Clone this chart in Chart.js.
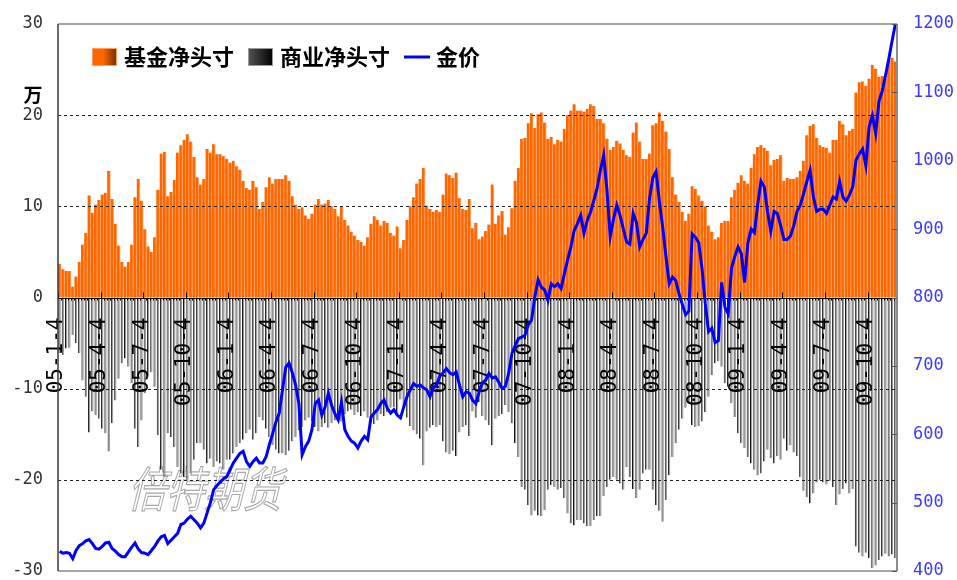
<!DOCTYPE html>
<html>
<head>
<meta charset="utf-8">
<script src="https://cdn.jsdelivr.net/npm/chart.js@4.4.0/dist/chart.umd.min.js"></script>
<style>
html, body { margin: 0; padding: 0; background: #fff; overflow: hidden; }
#wrap { position: relative; width: 957px; height: 580px; }
</style>
</head>
<body>
<div id="wrap"><canvas id="chart" width="957" height="580"></canvas></div>
<script>
// 基金净头寸 (万), weekly from 2005-01-04
const fundNet = [
    3.7, 3.1, 2.9, 2.9, 1.2, 2.3, 3.9, 5.8, 7.1, 11.2,
    9.3, 10.2, 10.7, 11.3, 11.5, 13.9, 10.8, 8.1, 5.7, 3.9,
    3.4, 3.9, 5.8, 11.0, 13.0, 10.6, 7.5, 5.6, 5.0, 6.6,
    11.8, 15.8, 16.0, 11.1, 11.6, 12.9, 15.9, 16.7, 17.3, 17.9,
    17.1, 15.4, 13.2, 12.4, 13.0, 16.3, 15.9, 16.8, 15.7, 15.7,
    15.5, 15.2, 14.8, 15.0, 14.4, 14.0, 12.8, 12.0, 11.8, 12.8,
    12.1, 9.7, 10.5, 12.1, 13.2,
    12.5, 13.0, 13.0, 13.0, 13.4, 12.8, 11.1, 10.2, 9.7, 9.9,
    9.0, 8.6, 9.2, 10.2, 10.8, 10.2, 10.3, 10.7, 10.0, 9.7,
    8.9, 10.0, 8.5, 7.9, 7.2, 6.8, 6.3, 6.1, 5.7, 6.6,
    8.1, 8.9, 8.5, 7.9, 8.4, 8.2, 7.1, 6.8, 7.8, 5.4,
    6.3, 8.5, 10.0, 11.0, 12.5, 13.0, 14.2, 10.1, 9.7, 9.4,
    9.6, 9.4, 11.3, 13.6, 13.4, 13.1, 13.7, 10.9, 9.7, 9.6,
    10.8, 7.6, 8.2, 6.4,
    6.7, 7.3, 8.0, 12.4, 8.1, 9.0, 9.5, 6.9, 7.7, 9.8,
    12.8, 14.2, 17.4, 17.5, 19.1, 20.2, 18.6, 20.1, 20.3, 19.2,
    17.4, 17.6, 16.8, 17.3, 17.1, 18.5, 20.0, 20.5, 21.2, 20.5,
    20.5, 20.4, 20.7, 21.2, 21.0, 19.6, 19.6, 19.1, 17.4, 16.2,
    16.5, 17.2, 16.9, 16.2, 15.6, 15.4, 18.1, 19.2, 17.1, 15.2,
    15.2, 15.8, 18.9, 19.1, 20.3, 19.4, 18.2, 16.3, 13.2, 11.3,
    10.5, 9.4, 8.4, 9.2,
    12.2, 11.9, 11.2, 10.6, 10.0, 7.9, 7.2, 6.4, 6.6, 8.2,
    8.4, 8.4, 11.0, 11.8, 12.6, 13.4, 12.8, 12.5, 14.2, 15.7,
    16.5, 16.7, 16.4, 16.1, 14.5, 15.1, 15.2, 15.6, 12.8, 13.1,
    13.0, 13.0, 13.2, 13.9, 15.0, 17.8, 18.8, 19.0, 17.5, 16.7,
    16.5, 16.4, 15.9, 17.3, 17.3, 19.4, 19.0, 17.8, 18.3, 18.5,
    22.5, 23.6, 23.7, 23.2, 24.0, 25.5, 25.1, 24.2, 24.3, 24.0,
    26.0, 26.3, 25.9
];

// 商业净头寸 (万)
const commNet = [
    -6.1, -6.3, -5.6, -5.5, -4.1, -5.0, -6.1, -9.1, -10.9, -14.8,
    -12.5, -12.9, -13.3, -14.4, -14.9, -16.9, -13.8, -11.3, -8.9, -7.2,
    -6.7, -7.6, -9.4, -14.4, -16.4, -13.5, -10.5, -8.7, -8.2, -9.8,
    -15.1, -18.9, -19.7, -14.9, -15.3, -16.4, -18.6, -19.3, -19.7, -20.0,
    -19.3, -17.8, -16.0, -16.0, -16.7, -18.2, -17.7, -18.6, -18.0, -18.2,
    -18.9, -17.8, -17.8, -17.1, -16.4, -16.0, -15.6, -14.9, -14.5, -15.6,
    -14.9, -13.1, -13.5, -14.4, -15.3,
    -16.2, -16.7, -17.1, -17.1, -17.3, -16.8, -15.8, -15.3, -14.6, -14.2,
    -13.5, -13.2, -13.6, -14.2, -14.7, -14.2, -13.8, -14.3, -13.8, -13.5,
    -12.9, -13.6, -12.8, -12.5, -12.3, -12.9, -12.6, -13.0, -12.5, -13.2,
    -13.8, -13.9, -13.5, -12.8, -13.0, -12.6, -12.1, -12.0, -12.9, -11.2,
    -12.0, -13.2, -14.1, -14.6, -15.0, -15.5, -18.4, -14.7, -14.3, -14.0,
    -14.2, -14.0, -15.8, -17.0, -17.2, -16.8, -17.4, -14.8, -14.2, -14.0,
    -15.2, -12.5, -13.2, -11.5,
    -13.0, -13.5, -14.0, -16.2, -13.3, -13.0, -12.8, -11.8, -12.6, -13.8,
    -16.0, -17.5, -20.8, -21.1, -22.8, -23.9, -23.4, -23.9, -24.0, -23.3,
    -21.1, -20.6, -20.8, -21.1, -20.9, -22.0, -23.7, -24.8, -25.0, -24.4,
    -24.4, -24.8, -25.1, -25.1, -24.4, -24.0, -24.0, -21.8, -20.8, -20.0,
    -19.7, -20.0, -20.4, -21.1, -18.6, -19.7, -21.0, -22.0, -21.1, -19.3,
    -18.9, -18.9, -21.1, -22.8, -23.4, -24.6, -22.2, -19.5, -17.5, -16.0,
    -14.5, -13.3, -12.1, -11.6,
    -14.0, -14.2, -14.1, -13.6, -12.6, -10.9, -8.5, -7.2, -7.0, -7.6,
    -9.4, -9.8, -11.6, -13.1, -14.9, -16.0, -16.5, -17.5, -18.2, -18.9,
    -19.5, -19.3, -18.0, -16.7, -17.6, -18.2, -17.4, -17.8, -15.5, -16.8,
    -16.2, -17.0, -17.4, -19.7, -21.2, -21.9, -22.6, -21.5, -20.3, -20.0,
    -20.3, -20.5, -20.1, -20.8, -22.8, -21.6, -21.0, -20.4, -21.5, -21.0,
    -27.3, -28.0, -28.4, -28.0, -28.6, -29.7, -29.4, -28.8, -28.4, -28.1,
    -28.4, -28.2, -28.6
];

// 金价 (美元/盎司)
const goldPrice = [
    429, 426, 427, 426, 418, 430, 437, 440, 444, 446,
    440, 433, 432, 436, 441, 442, 433, 429, 424, 421,
    421, 428, 435, 441, 432, 427, 426, 424, 430, 436,
    444, 450, 452, 440, 445, 450, 455, 468, 470, 476,
    480, 475, 470, 463, 470, 485, 500, 519, 525, 530,
    535, 538, 548, 558, 565, 572, 575, 560, 553, 560,
    565, 558, 558, 567, 585, 601, 618, 631, 665, 698,
    704, 690, 672, 645, 570, 582, 590, 607, 645, 650,
    628, 640, 660, 642, 630, 621, 647, 607, 597, 590,
    587, 580, 590, 597, 592, 625, 631, 636, 645, 650,
    638, 631, 636, 628, 624, 640, 655, 665, 674, 670,
    672, 668, 665, 655, 668, 672, 685, 690, 696, 690,
    687, 691, 672, 655, 662, 660, 650, 645, 662, 675,
    679, 689, 682, 684, 676, 667, 670, 689, 718, 730,
    740, 742, 745, 760, 767, 801, 826, 815, 811, 796,
    820, 816, 820, 813, 835, 855, 874, 898, 908, 920,
    894, 913, 925, 942, 960, 986, 1008, 957, 889, 915,
    935, 920, 900, 881, 878, 923, 910, 874, 885, 894,
    945, 975, 984, 940, 903, 860, 820, 830, 825, 805,
    790, 775, 780, 893, 888, 880, 843, 791, 750, 755,
    734, 737, 822, 786, 776, 843, 860, 874, 864, 822,
    880, 900, 895, 936, 970, 962, 925, 897, 926, 923,
    905, 885, 885, 890, 905, 926, 935, 952, 970, 986,
    947, 926, 929, 929, 923, 935, 947, 944, 970, 947,
    941, 950, 962, 1001, 1010, 1017, 993, 1050, 1066, 1040,
    1087, 1102, 1125, 1149, 1175, 1200
];

const tickLabels = [
    "05-1-4", "05-4-4", "05-7-4", "05-10-4",
    "06-1-4", "06-4-4", "06-7-4", "06-10-4",
    "07-1-4", "07-4-4", "07-7-4", "07-10-4",
    "08-1-4", "08-4-4", "08-7-4", "08-10-4",
    "09-1-4", "09-4-4", "09-7-4", "09-10-4"
];
const tickEvery = 13; // 一个季度 13 周

// 周度类目
const weeks = [];
const start = new Date(2005, 0, 4);
for (let i = 0; i < fundNet.length; i++) {
    const d = new Date(start.getTime() + i * 7 * 86400000);
    weeks.push(String(d.getFullYear()).slice(2) + "-" + (d.getMonth() + 1) + "-" + d.getDate());
}

const fitY = (width) => (s) => {
    s.width = width;
    s.paddingTop = 0;
    s.paddingBottom = 0;
};

const decor = {
    id: "decor",
    beforeDatasetsDraw(chart) {
        // 水印
        const ctx = chart.ctx;
        ctx.save();
        ctx.translate(132, 489);
        ctx.transform(0.8, 0, -0.25, 1, 0, 0);
        ctx.font = '48px "Noto Sans CJK SC"';
        ctx.textAlign = "left";
        ctx.textBaseline = "middle";
        ctx.fillStyle = "#ffffff";
        ctx.fillText("倍特期货", 0, 0);
        ctx.strokeStyle = "#a8a8a8";
        ctx.lineWidth = 1.2;
        ctx.strokeText("倍特期货", 0, 0);
        ctx.restore();
    },
    afterDatasetDraw(chart, args) {
        if (args.index !== 0) return;
        const { ctx, chartArea: a } = chart;
        const x = chart.scales.x;
        const y = chart.scales.y;
        ctx.save();

        // 虚线网格
        ctx.strokeStyle = "#222";
        ctx.lineWidth = 1;
        ctx.setLineDash([3, 3]);
        [20, 10, -10, -20].forEach((v) => {
            const py = Math.round(y.getPixelForValue(v)) + 0.5;
            ctx.beginPath();
            ctx.moveTo(a.left, py);
            ctx.lineTo(a.right, py);
            ctx.stroke();
        });
        ctx.setLineDash([]);

        // 零轴
        const y0 = Math.round(y.getPixelForValue(0)) + 0.5;
        ctx.strokeStyle = "#000";
        ctx.beginPath();
        ctx.moveTo(a.left, y0);
        ctx.lineTo(a.right, y0);
        ctx.stroke();

        const w = x.getPixelForValue(1) - x.getPixelForValue(0);
        for (let i = 0; i <= weeks.length; i++) {
            const px = Math.round(x.getPixelForValue(0) - w / 2 + i * w) + 0.5;
            ctx.beginPath();
            if (i % tickEvery === 0) {
                ctx.moveTo(px, y0 - 6);
                ctx.lineTo(px, y0);
            } else {
                ctx.moveTo(px, y0);
                ctx.lineTo(px, y0 + 2);
            }
            ctx.stroke();
        }

        // 日期标签
        ctx.fillStyle = "#000";
        ctx.font = '21px "DejaVu Sans Mono"';
        ctx.textAlign = "right";
        ctx.textBaseline = "middle";
        tickLabels.forEach((lab, k) => {
            const px = x.getPixelForValue(k * tickEvery) - w / 2 - 1;
            ctx.save();
            ctx.translate(px, y0 + 19);
            ctx.rotate(-Math.PI / 2);
            ctx.fillText(lab, 0, 0);
            ctx.restore();
        });
        ctx.restore();
    },
    afterDraw(chart) {
        const { ctx, chartArea: a } = chart;
        const y1 = chart.scales.y1;
        ctx.save();

        // 边框
        ctx.lineWidth = 2;
        ctx.strokeStyle = "#a6a6a6";
        ctx.beginPath();
        ctx.moveTo(a.left, a.top);
        ctx.lineTo(a.right, a.top);
        ctx.moveTo(a.left, a.bottom);
        ctx.lineTo(a.right, a.bottom);
        ctx.stroke();
        ctx.strokeStyle = "#8c8c8c";
        ctx.beginPath();
        ctx.moveTo(a.right, a.top);
        ctx.lineTo(a.right, a.bottom);
        ctx.stroke();
        ctx.lineWidth = 1.5;
        ctx.strokeStyle = "#3a3a3a";
        ctx.beginPath();
        ctx.moveTo(a.left, a.top);
        ctx.lineTo(a.left, a.bottom);
        ctx.stroke();

        ctx.lineWidth = 1;
        ctx.strokeStyle = "#555";
        for (let v = 400; v <= 1200; v += 100) {
            const py = Math.round(y1.getPixelForValue(v)) + 0.5;
            ctx.beginPath();
            ctx.moveTo(a.right - 5, py);
            ctx.lineTo(a.right, py);
            ctx.stroke();
        }

        // 单位
        ctx.fillStyle = "#000";
        ctx.font = 'bold 19px "Noto Sans CJK SC"';
        ctx.textAlign = "center";
        ctx.textBaseline = "middle";
        ctx.fillText("万", 33, 95);

        // 图例
        const ly = 57;
        let g = ctx.createLinearGradient(92, 0, 117, 0);
        g.addColorStop(0, "#ff6600");
        g.addColorStop(0.45, "#ff6600");
        g.addColorStop(1, "#6e2c00");
        ctx.fillStyle = g;
        ctx.fillRect(92, 48, 25, 18);
        ctx.strokeStyle = "#ffa060";
        ctx.strokeRect(92.5, 48.5, 24, 17);

        g = ctx.createLinearGradient(248, 0, 273, 0);
        g.addColorStop(0, "#555555");
        g.addColorStop(1, "#000000");
        ctx.fillStyle = g;
        ctx.fillRect(248, 48, 25, 18);
        ctx.strokeStyle = "#999";
        ctx.strokeRect(248.5, 48.5, 24, 17);

        ctx.strokeStyle = "#0000ff";
        ctx.lineWidth = 3;
        ctx.beginPath();
        ctx.moveTo(404, ly);
        ctx.lineTo(430, ly);
        ctx.stroke();

        ctx.fillStyle = "#000";
        ctx.font = 'bold 22px "Noto Sans CJK SC"';
        ctx.textAlign = "left";
        ctx.fillText("基金净头寸", 124, ly);
        ctx.fillText("商业净头寸", 280, ly);
        ctx.fillText("金价", 436, ly);
        ctx.restore();
    }
};

new Chart(document.getElementById("chart").getContext("2d"), {
    type: "bar",
    data: {
        labels: weeks,
        datasets: [
            {
                label: "基金净头寸",
                data: fundNet,
                yAxisID: "y",
                backgroundColor: "#ff6600",
                borderColor: "#ffb27a",
                borderWidth: { left: 0, right: 1, top: 0, bottom: 0 },
                barPercentage: 1.0,
                categoryPercentage: 1.0,
                grouped: false,
                order: 2
            },
            {
                label: "商业净头寸",
                data: commNet,
                yAxisID: "y",
                backgroundColor: "#9c9c9c",
                borderColor: "#151515",
                borderWidth: { left: 1, right: 0, top: 0, bottom: 0 },
                barPercentage: 0.72,
                categoryPercentage: 1.0,
                grouped: false,
                order: 3
            },
            {
                type: "line",
                label: "金价",
                data: goldPrice,
                yAxisID: "y1",
                borderColor: "#0000ff",
                borderWidth: 3,
                pointRadius: 0,
                tension: 0,
                fill: false,
                order: 1
            }
        ]
    },
    options: {
        responsive: false,
        animation: false,
        layout: { padding: { top: 24, bottom: 9, left: 0, right: 0 } },
        plugins: {
            legend: { display: false },
            tooltip: { enabled: false }
        },
        scales: {
            x: {
                type: "category",
                display: false,
                offset: true,
                afterFit: (s) => { s.height = 0; }
            },
            y: {
                position: "left",
                min: -30,
                max: 30,
                ticks: {
                    stepSize: 10,
                    padding: 15,
                    color: "#333",
                    font: { family: "DejaVu Sans Mono", size: 17, lineHeight: 1 }
                },
                grid: { display: false, drawTicks: false },
                border: { display: false },
                afterFit: fitY(58)
            },
            y1: {
                position: "right",
                min: 400,
                max: 1200,
                ticks: {
                    stepSize: 100,
                    padding: 16,
                    color: "#3c3cff",
                    font: { family: "DejaVu Sans Mono", size: 17, lineHeight: 1 },
                    callback: (v) => String(v)
                },
                grid: { display: false, drawTicks: false },
                border: { display: false },
                afterFit: fitY(60)
            }
        }
    },
    plugins: [decor]
});
</script>
</body>
</html>
